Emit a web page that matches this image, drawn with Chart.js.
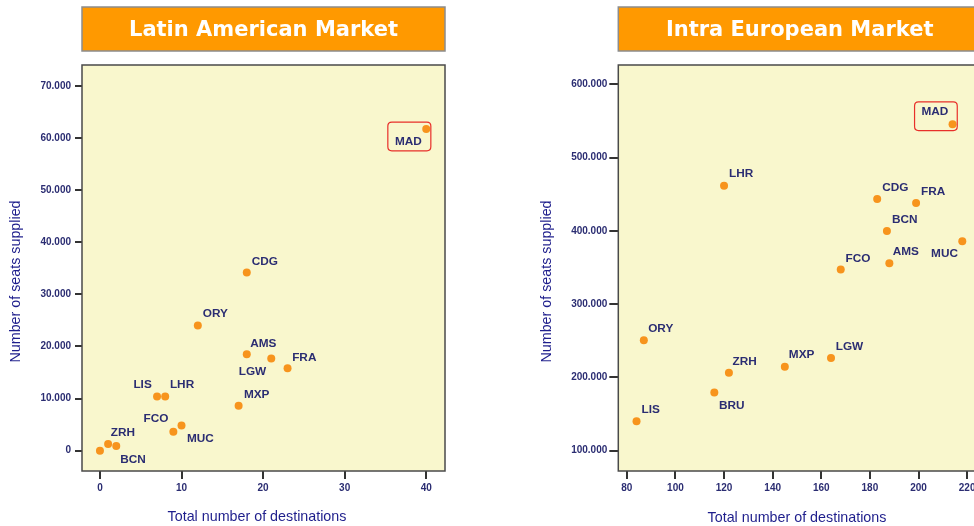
<!DOCTYPE html>
<html>
<head>
<meta charset="utf-8">
<script src="https://cdn.jsdelivr.net/npm/chart.js@4/dist/chart.umd.min.js"></script>
<style>
  html, body { margin:0; padding:0; background:#ffffff; overflow:hidden; width:974px; height:526px; }
  #left { position:absolute; left:0; top:0; }
  #right { position:absolute; left:487px; top:0; }
</style>
</head>
<body>
<canvas id="left" width="487" height="526"></canvas>
<canvas id="right" width="500" height="526"></canvas>
<script>
// ---------- DATA ----------
const latinTitle = 'Latin American Market';
const latinCodes = ['MAD','CDG','ORY','AMS','LGW','FRA','LIS','LHR','MXP','FCO','MUC','ZRH','BCN',''];
const latinDestinations = [40, 18, 12, 18, 21, 23, 7, 8, 17, 9, 10, 1, 2, 0];
const latinSeats = [61700, 34200, 24000, 18500, 17700, 15800, 10400, 10400, 8600, 3650, 4850, 1300, 900, 0];
const latinXTicks = [0, 10, 20, 30, 40];
const latinYTicks = [0, 10000, 20000, 30000, 40000, 50000, 60000, 70000];

const euroTitle = 'Intra European Market';
const euroCodes = ['MAD','LHR','CDG','FRA','BCN','MUC','AMS','FCO','ORY','LGW','MXP','ZRH','BRU','LIS'];
const euroDestinations = [214, 120, 183, 199, 187, 218, 188, 168, 87, 164, 145, 122, 116, 84];
const euroSeats = [545500, 461700, 443400, 437900, 399900, 385700, 355900, 347300, 250700, 226400, 214400, 206200, 179300, 140200];
const euroXTicks = [80, 100, 120, 140, 160, 180, 200, 220];
const euroYTicks = [100000, 200000, 300000, 400000, 500000, 600000];

const xAxisTitle = 'Total number of destinations';
const yAxisTitle = 'Number of seats supplied';
const highlightCode = 'MAD';

// ---------- STYLE ----------
const NAVY = '#2b2d72';
const TITLE_BLUE = '#1e1e8c';
const DOT = '#f7941d';
const PLOT_BG = '#f9f7cd';

const latinLabelPos = {
  MAD:[-4.4,12.7,'right'], CDG:[5,-10.6,'left'], ORY:[5,-11.4,'left'], AMS:[3.4,-10.7,'left'],
  LGW:[-5,13,'right'], FRA:[4.6,-11,'left'], LIS:[-5.3,-11.7,'right'], LHR:[4.7,-11.4,'left'],
  MXP:[5.3,-11,'left'], FCO:[-5,-12.7,'right'], MUC:[5.4,13.7,'left'], ZRH:[2.6,-10.7,'left'],
  BCN:[4,13.3,'left']
};
const euroLabelPos = {
  MAD:[-4.3,-12.4,'right'], LHR:[5,-11.7,'left'], CDG:[5,-11.3,'left'], FRA:[5,-11.3,'left'],
  BCN:[5,-11.4,'left'], MUC:[-4.3,12.3,'right'], AMS:[3.4,-11,'left'], FCO:[4.7,-11,'left'],
  ORY:[4.3,-11,'left'], LGW:[4.7,-11,'left'], MXP:[4,-12.4,'left'], ZRH:[3.6,-10.7,'left'],
  BRU:[4.7,13,'left'], LIS:[5,-11.4,'left']
};
const latinBox = [-38.4, -7, 43, 28.7];
const euroBox = [-38, -22.4, 42.7, 28.7];

function fmt(v){ return String(v).replace(/\B(?=(\d{3})+(?!\d))/g, '.'); }

function roundRect(ctx, x, y, w, h, r){
  ctx.beginPath();
  ctx.moveTo(x+r, y);
  ctx.lineTo(x+w-r, y); ctx.quadraticCurveTo(x+w, y, x+w, y+r);
  ctx.lineTo(x+w, y+h-r); ctx.quadraticCurveTo(x+w, y+h, x+w-r, y+h);
  ctx.lineTo(x+r, y+h); ctx.quadraticCurveTo(x, y+h, x, y+h-r);
  ctx.lineTo(x, y+r); ctx.quadraticCurveTo(x, y, x+r, y);
  ctx.closePath();
}

function makeChart(id, cfg){
  const decor = {
    id: 'decor',
    beforeDraw(chart){
      const ctx = chart.ctx, a = chart.chartArea;
      ctx.save();
      ctx.fillStyle = '#ff9900';
      ctx.fillRect(a.left, 7, a.right - a.left, 44);
      ctx.strokeStyle = '#8c8c8c';
      ctx.lineWidth = 1.5;
      ctx.strokeRect(a.left, 7, a.right - a.left, 44);
      ctx.fillStyle = PLOT_BG;
      ctx.fillRect(a.left, a.top, a.right - a.left, a.bottom - a.top);
      ctx.restore();
    },
    beforeDatasetsDraw(chart){
      const ctx = chart.ctx, a = chart.chartArea;
      ctx.save();
      ctx.strokeStyle = '#4a4a4a';
      ctx.lineWidth = 1.5;
      ctx.strokeRect(a.left, a.top, a.right - a.left, a.bottom - a.top);
      ctx.restore();
    },
    afterDraw(chart){
      const ctx = chart.ctx;
      const meta = chart.getDatasetMeta(0);
      ctx.save();
      ctx.font = 'bold 11.8px "Liberation Sans", Arial, sans-serif';
      ctx.fillStyle = NAVY;
      ctx.textBaseline = 'middle';
      meta.data.forEach((pt, i) => {
        const code = cfg.codes[i];
        if (!code) return;
        const p = cfg.labelPos[code];
        ctx.textAlign = p[2];
        ctx.fillText(code, pt.x + p[0], pt.y + p[1]);
        if (code === highlightCode) {
          const b = cfg.box;
          ctx.strokeStyle = '#e8302a';
          ctx.lineWidth = 1.2;
          roundRect(ctx, pt.x + b[0], pt.y + b[1], b[2], b[3], 4);
          ctx.stroke();
        }
      });
      ctx.font = '14.3px "Liberation Sans", Arial, sans-serif';
      ctx.fillStyle = TITLE_BLUE;
      ctx.textAlign = 'center';
      ctx.fillText(xAxisTitle, cfg.xTitlePos[0], cfg.xTitlePos[1]);
      ctx.translate(cfg.yTitlePos[0], cfg.yTitlePos[1]);
      ctx.rotate(-Math.PI/2);
      ctx.fillText(yAxisTitle, 0, 0);
      ctx.restore();
    }
  };

  const tickFont = {family:'"Liberation Sans", Arial, sans-serif', size:10, weight:'bold'};
  return new Chart(document.getElementById(id), {
    type: 'scatter',
    data: {
      datasets: [{
        data: cfg.x.map((v, i) => ({x: v, y: cfg.y[i]})),
        backgroundColor: DOT,
        borderColor: DOT,
        borderWidth: 0,
        pointRadius: 4,
        pointHoverRadius: 4
      }]
    },
    options: {
      responsive: false,
      animation: false,
      events: [],
      layout: { padding: {left:0, right: cfg.padRight, top:0, bottom:0} },
      plugins: {
        legend: {display:false},
        tooltip: {enabled:false},
        title: {
          display: true,
          text: cfg.title,
          color: '#ffffff',
          fullSize: false,
          font: {family:'"DejaVu Sans", sans-serif', size:21, weight:'bold', lineHeight:1.2},
          padding: {top:18, bottom: 21.8}
        }
      },
      scales: {
        x: {
          type: 'linear',
          min: cfg.xMin, max: cfg.xMax,
          afterBuildTicks: s => { s.ticks = cfg.xTicks.map(v => ({value:v})); },
          afterFit: s => { s.height = 55; },
          border: {display:false},
          grid: {drawOnChartArea:false, drawTicks:true, tickLength:8, color:'#333', lineWidth:2},
          ticks: {font: tickFont, color: NAVY, padding:3, maxRotation:0, autoSkip:false, callback: v => fmt(v)}
        },
        y: {
          type: 'linear',
          min: cfg.yMin, max: cfg.yMax,
          afterBuildTicks: s => { s.ticks = cfg.yTicks.map(v => ({value:v})); },
          afterFit: s => { s.width = cfg.yWidth; },
          border: {display:false},
          grid: {drawOnChartArea:false, drawTicks:true, tickLength:cfg.yTickLen, color:'#333', lineWidth:2},
          ticks: {font: tickFont, color: NAVY, padding:cfg.yTickPad, autoSkip:false, callback: v => fmt(v)}
        }
      }
    },
    plugins: [decor]
  });
}

makeChart('left', {
  title: latinTitle, codes: latinCodes, x: latinDestinations, y: latinSeats,
  xTicks: latinXTicks, yTicks: latinYTicks,
  xMin: -2.2, xMax: 42.3, yMin: -3900, yMax: 74000,
  padRight: 42, yWidth: 82, yTickLen: 7, yTickPad: 4,
  labelPos: latinLabelPos, box: latinBox,
  xTitlePos: [257, 516.7], yTitlePos: [16, 281.5]
});

makeChart('right', {
  title: euroTitle, codes: euroCodes, x: euroDestinations, y: euroSeats,
  xTicks: euroXTicks, yTicks: euroYTicks,
  xMin: 76.5, xMax: 225.7, yMin: 72100, yMax: 626500,
  padRight: 6, yWidth: 131.3, yTickLen: 9, yTickPad: 2,
  labelPos: euroLabelPos, box: euroBox,
  xTitlePos: [797 - 487, 517.7], yTitlePos: [547 - 487, 281.5]
});
</script>
</body>
</html>
